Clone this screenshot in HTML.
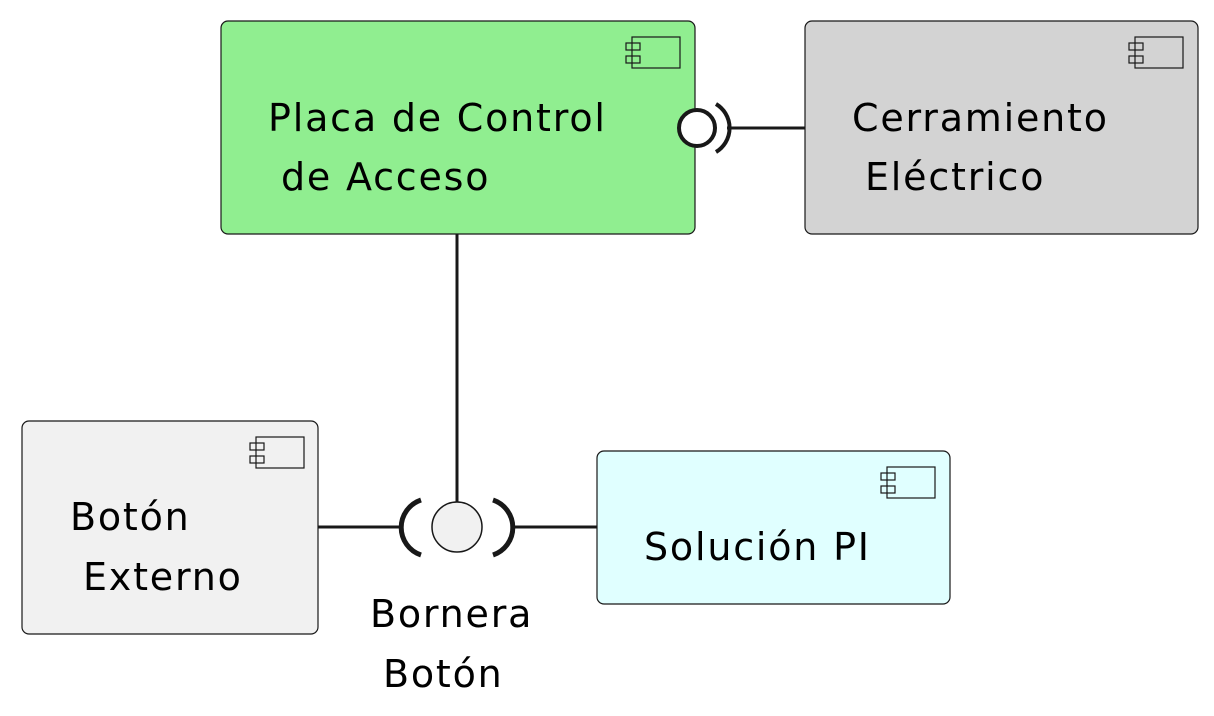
<!DOCTYPE html>
<html><head><meta charset="utf-8"><style>
html,body{margin:0;padding:0;background:#fff}
svg text{font-family:"DejaVu Sans","Liberation Sans",sans-serif;font-size:38px;fill:#000;letter-spacing:1.8px}
</style></head><body>
<svg width="1214" height="711" viewBox="0 0 1214 711" xmlns="http://www.w3.org/2000/svg">
<defs>
<g id="ic" fill="none" stroke="#181818" stroke-width="1.2">
<rect x="6" y="0" width="48" height="31"/>
<rect x="0" y="6" width="14" height="7"/>
<rect x="0" y="19" width="14" height="7"/>
</g>
</defs>
<g stroke="#181818" stroke-width="3" fill="none">
<line x1="457" y1="234" x2="457" y2="502"/>
<line x1="318" y1="527" x2="400" y2="527"/>
<line x1="515" y1="527" x2="597" y2="527"/>
<line x1="727" y1="128" x2="805" y2="128"/>
</g>
<rect x="221" y="21" width="474" height="213" rx="7" fill="#90ee90" stroke="#181818" stroke-width="1.2"/>
<use href="#ic" x="626" y="37"/>
<text x="268" y="131">Placa de Control</text>
<text x="281" y="190">de Acceso</text>
<rect x="805" y="21" width="393" height="213" rx="7" fill="#d3d3d3" stroke="#181818" stroke-width="1.2"/>
<use href="#ic" x="1129" y="37"/>
<text x="852" y="131">Cerramiento</text>
<text x="865" y="190">Eléctrico</text>
<rect x="22" y="421" width="296" height="213" rx="7" fill="#f1f1f1" stroke="#181818" stroke-width="1.2"/>
<use href="#ic" x="250" y="437"/>
<text x="70" y="530">Botón</text>
<text x="83" y="590">Externo</text>
<rect x="597" y="451" width="353" height="153" rx="7" fill="#e0ffff" stroke="#181818" stroke-width="1.2"/>
<use href="#ic" x="881" y="467"/>
<text x="644" y="560">Solución PI</text>
<circle cx="697" cy="128" r="18" fill="#fff" stroke="#181818" stroke-width="4"/>
<path d="M716,104 A28,28 0 0 1 716,152" fill="none" stroke="#181818" stroke-width="4"/>
<circle cx="457" cy="527" r="25" fill="#f1f1f1" stroke="#181818" stroke-width="1.5"/>
<path d="M421,500 A29,29 0 0 0 421,555" fill="none" stroke="#181818" stroke-width="5"/>
<path d="M493,500 A29,29 0 0 1 493,555" fill="none" stroke="#181818" stroke-width="5"/>
<text x="370" y="627">Bornera</text>
<text x="383" y="687">Botón</text>
</svg>
</body></html>
